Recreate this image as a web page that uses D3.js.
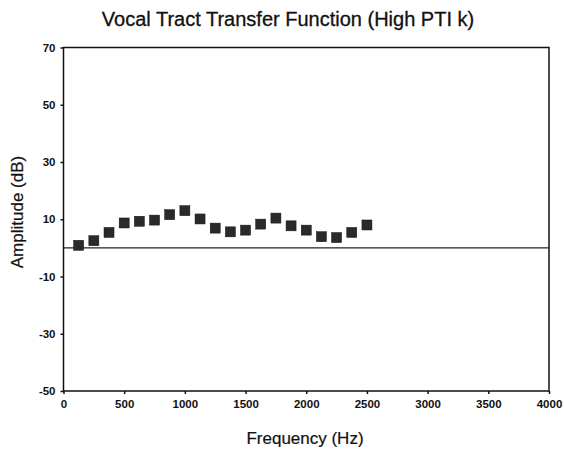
<!DOCTYPE html>
<html>
<head>
<meta charset="utf-8">
<script src="https://cdn.jsdelivr.net/npm/d3@7"></script>
<style>
body { margin: 0; background: #fff; }
text { font-family: "Liberation Sans", Arial, sans-serif; fill: #111; }
</style>
</head>
<body>
<div id="chart"></div>
<script>
var width = 564;
var height = 455;

// data
var frequency = [125, 250, 375, 500, 625, 750, 875, 1000, 1125, 1250,
                 1375, 1500, 1625, 1750, 1875, 2000, 2125, 2250, 2375, 2500];
var amplitude = [0.9, 2.5, 5.4, 8.7, 9.3, 9.7, 11.6, 13, 10.1, 6.9,
                 5.6, 6.2, 8.3, 10.4, 7.7, 6.2, 3.9, 3.6, 5.4, 8.0];
var xTicks = [0, 500, 1000, 1500, 2000, 2500, 3000, 3500, 4000];
var yTicks = [70, 50, 30, 10, -10, -30, -50];

var margin = {top: 47.5, right: 15, bottom: 64, left: 63.5};

var svg = d3.select("#chart")
            .append("svg")
            .attr("width", width)
            .attr("height", height);

var x = d3.scaleLinear()
          .domain([0, 4000])
          .range([margin.left, width - margin.right]);

var y = d3.scaleLinear()
          .domain([-50, 70])
          .range([height - margin.bottom, margin.top]);

// frame
svg.append("rect")
    .attr("x", x(0))
    .attr("y", y(70))
    .attr("width", x(4000) - x(0))
    .attr("height", y(-50) - y(70))
    .style("fill", "none")
    .style("stroke", "#111")
    .style("stroke-width", 1.5);

// zero line
svg.append("line")
    .attr("x1", x(0)).attr("x2", x(4000))
    .attr("y1", y(0)).attr("y2", y(0))
    .style("stroke", "#222")
    .style("stroke-width", 1.3);

var xAxis = svg.append("g")
    .attr("transform", "translate(0," + y(-50) + ")")
    .call(d3.axisBottom(x).tickValues(xTicks).tickSize(3).tickPadding(6).tickFormat(d3.format("d")));

var yAxis = svg.append("g")
    .attr("transform", "translate(" + x(0) + ",0)")
    .call(d3.axisLeft(y).tickValues(yTicks).tickSize(3).tickPadding(5).tickFormat(function(d){
        return d < 0 ? "-" + Math.abs(d) : d;
    }));

[xAxis, yAxis].forEach(function(a){
    a.select(".domain").remove();
    a.selectAll(".tick line").style("stroke", "#111").style("stroke-width", 1.5);
    a.selectAll(".tick text")
        .style("font-size", "11.5px")
        .style("font-weight", "bold")
        .style("fill", "#111");
});

// markers
svg.selectAll("rect.pt")
    .data(frequency)
    .enter()
    .append("rect")
    .attr("class", "pt")
    .attr("x", function(d){ return x(d) - 5; })
    .attr("y", function(d, i){ return y(amplitude[i]) - 5; })
    .attr("width", 10)
    .attr("height", 10)
    .style("fill", "#2a2a2a")
    .style("stroke", "#111")
    .style("stroke-width", 0.5);

// title and axis labels
svg.append("text")
    .attr("x", 288)
    .attr("y", 26)
    .attr("text-anchor", "middle")
    .style("font-size", "20px")
    .style("stroke", "#111")
    .style("stroke-width", 0.3)
    .text("Vocal Tract Transfer Function (High PTI k)");

svg.append("text")
    .attr("x", 305)
    .attr("y", 444)
    .attr("text-anchor", "middle")
    .style("font-size", "17px")
    .style("stroke", "#111")
    .style("stroke-width", 0.2)
    .text("Frequency (Hz)");

svg.append("text")
    .attr("transform", "translate(23,212) rotate(-90)")
    .attr("text-anchor", "middle")
    .style("font-size", "17px")
    .style("stroke", "#111")
    .style("stroke-width", 0.2)
    .text("Amplitude (dB)");
</script>
</body>
</html>
